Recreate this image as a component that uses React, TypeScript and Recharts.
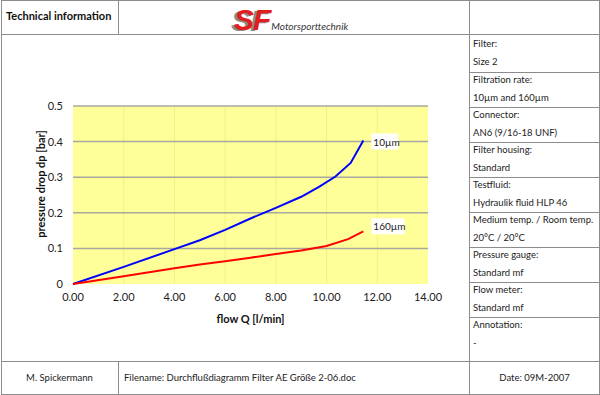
import { LineChart, Line, XAxis, YAxis, CartesianGrid } from "recharts";

// flow Q [l/min] vs pressure drop dp [bar]
const flow10 = [0, 2, 4, 5, 6, 7, 8, 9, 9.7, 10.35, 10.95, 11.45];
const drop10 = [0, 0.048, 0.098, 0.123, 0.152, 0.184, 0.214, 0.245, 0.273, 0.302, 0.34, 0.403];

const flow160 = [0, 2, 4, 5, 6, 7, 8, 9, 10, 10.85, 11.45];
const drop160 = [0, 0.022, 0.044, 0.055, 0.064, 0.074, 0.084, 0.094, 0.107, 0.126, 0.148];

const xTicks = [0, 2, 4, 6, 8, 10, 12, 14];
const yTicks = [0, 0.1, 0.2, 0.3, 0.4, 0.5];

const infoRows = [
  ["Filter:", "Size 2"],
  ["Filtration rate:", "10µm and 160µm"],
  ["Connector:", "AN6 (9/16-18 UNF)"],
  ["Filter housing:", "Standard"],
  ["Testfluid:", "Hydraulik fluid HLP 46"],
  ["Medium temp. / Room temp.", "20°C / 20°C"],
  ["Pressure gauge:", "Standard mf"],
  ["Flow meter:", "Standard mf"],
  ["Annotation:", "-"],
];
const rowTops = [36, 72, 107, 142, 177, 212, 247, 282, 317];

const data10 = flow10.map((q, i) => ({ q, dp: drop10[i] }));
const data160 = flow160.map((q, i) => ({ q, dp: drop160[i] }));

const FONT = "Lato, 'Open Sans', sans-serif";
const LINE = "#8c8c8c";

const endLabel = (text: string, last: number, dy: number, w: number) => (p: any) => {
  if (p.index !== last) return null;
  const x = p.x + 8;
  const y = p.y + dy;
  return (
    <g>
      <rect x={x} y={y - 8} width={w} height={16} fill="#fff" />
      <text x={x + 2} y={y} dominantBaseline="central" fontSize={10} fill="#222" fontFamily={FONT}>
        {text}
      </text>
    </g>
  );
};

const hLine = (top: number, left: number, width: number) => (
  <div style={{ position: "absolute", top, left, width, height: 1, background: LINE }} />
);
const vLine = (left: number, top: number, height: number) => (
  <div style={{ position: "absolute", top, left, width: 1, height, background: LINE }} />
);

export default function App() {
  return (
    <div
      style={{
        position: "absolute",
        left: 0,
        top: 0,
        width: 600,
        height: 395,
        background: "#fff",
        fontFamily: FONT,
        color: "#222",
        overflow: "hidden",
      }}
    >
      <div
        style={{
          position: "absolute",
          left: 1,
          top: 0,
          width: 599,
          height: 395,
          border: `1px solid ${LINE}`,
          boxSizing: "border-box",
        }}
      />
      {hLine(34, 1, 599)}
      {hLine(361, 1, 599)}
      {vLine(118, 0, 34)}
      {vLine(118, 361, 34)}
      {vLine(469, 0, 395)}
      {rowTops.slice(1).map((t) => (
        <div key={t}>{hLine(t, 469, 131)}</div>
      ))}

      <div style={{ position: "absolute", left: 6, top: 9, fontSize: 11, fontWeight: 700, color: "#111" }}>
        Technical information
      </div>
      <div style={{ position: "absolute", left: 234, top: 3, whiteSpace: "nowrap" }}>
        <span
          style={{
            fontFamily: "'Liberation Sans', Arial, sans-serif",
            fontSize: 30,
            fontWeight: 900,
            fontStyle: "italic",
            color: "#e41c1c",
            textShadow: "-3px 1px 0 #8a8a8a",
            letterSpacing: -1,
          }}
        >
          SF
        </span>
        <span style={{ fontSize: 10, fontStyle: "italic", color: "#333", marginLeft: 1 }}>Motorsporttechnik</span>
      </div>

      {infoRows.map(([label, value], i) => (
        <div key={label}>
          <div style={{ position: "absolute", left: 473, top: rowTops[i] + 2, fontSize: 9.5, lineHeight: "12px" }}>
            {label}
          </div>
          <div style={{ position: "absolute", left: 473, top: rowTops[i] + 20, fontSize: 9.5, lineHeight: "12px" }}>
            {value}
          </div>
        </div>
      ))}

      <div style={{ position: "absolute", left: 1, width: 117, top: 372, textAlign: "center", fontSize: 9.5 }}>
        M. Spickermann
      </div>
      <div style={{ position: "absolute", left: 124, top: 372, fontSize: 9.5 }}>
        Filename: Durchflußdiagramm Filter AE Größe 2-06.doc
      </div>
      <div style={{ position: "absolute", left: 469, width: 131, top: 372, textAlign: "center", fontSize: 9.5 }}>
        Date: 09M-2007
      </div>

      <div style={{ position: "absolute", left: 0, top: 34 }}>
        <LineChart width={468} height={327} margin={{ top: 72, right: 40, left: 33, bottom: 47 }}>
          <CartesianGrid fill="#ffff99" horizontal={false} stroke="#f0f08a" verticalValues={[2, 4, 6, 8, 10, 12]} />
          <CartesianGrid
            vertical={false}
            stroke="#a8a8a0"
            strokeWidth={1.5}
            horizontalValues={[0.1, 0.2, 0.3, 0.4, 0.5]}
          />
          <XAxis
            type="number"
            dataKey="q"
            domain={[0, 14]}
            ticks={xTicks}
            tickFormatter={(v: number) => v.toFixed(2)}
            axisLine={false}
            tickLine={false}
            tickSize={0}
            tickMargin={9}
            height={30}
            tick={{ fontSize: 11, fill: "#222", fontFamily: FONT }}
            label={{
              content: (p: any) => {
                const vb = p.viewBox || { x: 73, y: 250, width: 355, height: 30 };
                return (
                  <text
                    x={vb.x + vb.width / 2}
                    y={vb.y + vb.height + 4}
                    textAnchor="middle"
                    dominantBaseline="central"
                    fontSize={11}
                    fontWeight={700}
                    fill="#111"
                    fontFamily={FONT}
                  >
                    flow Q [l/min]
                  </text>
                );
              },
            }}
          />
          <YAxis
            type="number"
            domain={[0, 0.5]}
            ticks={yTicks}
            tickFormatter={(v: number) => (v === 0 ? "0" : v.toFixed(1))}
            axisLine={false}
            tickLine={false}
            tickSize={0}
            tickMargin={10}
            width={40}
            tick={{ fontSize: 11, fill: "#222", fontFamily: FONT }}
            label={{
              content: (p: any) => {
                const vb = p.viewBox || { x: 33, y: 72, width: 40, height: 178 };
                const cx = vb.x + 7;
                const cy = vb.y + vb.height / 2 - 11;
                return (
                  <text
                    x={cx}
                    y={cy}
                    transform={`rotate(-90, ${cx}, ${cy})`}
                    textAnchor="middle"
                    dominantBaseline="central"
                    fontSize={11}
                    fontWeight={700}
                    fill="#111"
                    fontFamily={FONT}
                  >
                    pressure drop dp [bar]
                  </text>
                );
              },
            }}
          />
          <Line
            data={data10}
            dataKey="dp"
            type="linear"
            stroke="#0000ff"
            strokeWidth={2}
            dot={false}
            isAnimationActive={false}
            label={endLabel("10µm", data10.length - 1, 1, 27)}
          />
          <Line
            data={data160}
            dataKey="dp"
            type="linear"
            stroke="#ff0000"
            strokeWidth={2}
            dot={false}
            isAnimationActive={false}
            label={endLabel("160µm", data160.length - 1, -5, 33)}
          />
        </LineChart>
      </div>
    </div>
  );
}
